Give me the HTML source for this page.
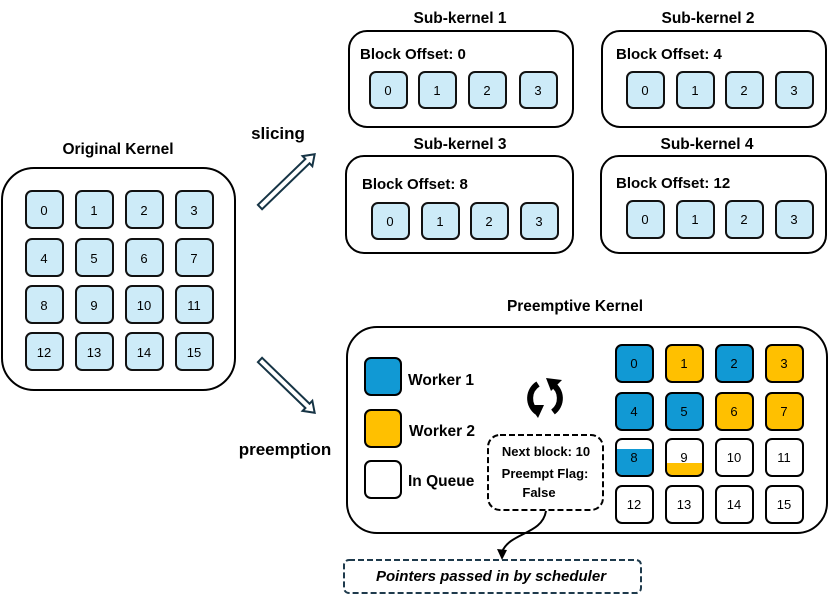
<!DOCTYPE html>
<html><head><meta charset="utf-8"><style>
html,body{margin:0;padding:0;background:#fff}
svg{display:block}
text{font-family:"Liberation Sans",sans-serif}
.t{font-weight:bold;font-size:15.5px;text-anchor:middle}
.n{font-size:13px;text-anchor:middle}
.c{fill:#CDEBF8;stroke:#111;stroke-width:2}
.b{fill:#fff;stroke:#000;stroke-width:2}
.bo{font-weight:bold;font-size:15px}
</style></head><body>
<svg width="830" height="597" viewBox="0 0 830 597" xmlns="http://www.w3.org/2000/svg">
<text class="t" x="118" y="154">Original Kernel</text>
<rect class="b" x="2" y="168" width="233" height="222" rx="32"/>
<g>
<rect class="c" x="26" y="191" width="37" height="37" rx="6"/><text class="n" x="44" y="215">0</text>
<rect class="c" x="76" y="191" width="37" height="37" rx="6"/><text class="n" x="94" y="215">1</text>
<rect class="c" x="126" y="191" width="37" height="37" rx="6"/><text class="n" x="144" y="215">2</text>
<rect class="c" x="176" y="191" width="37" height="37" rx="6"/><text class="n" x="194" y="215">3</text>
<rect class="c" x="26" y="239" width="37" height="37" rx="6"/><text class="n" x="44" y="263">4</text>
<rect class="c" x="76" y="239" width="37" height="37" rx="6"/><text class="n" x="94" y="263">5</text>
<rect class="c" x="126" y="239" width="37" height="37" rx="6"/><text class="n" x="144" y="263">6</text>
<rect class="c" x="176" y="239" width="37" height="37" rx="6"/><text class="n" x="194" y="263">7</text>
<rect class="c" x="26" y="286" width="37" height="37" rx="6"/><text class="n" x="44" y="310">8</text>
<rect class="c" x="76" y="286" width="37" height="37" rx="6"/><text class="n" x="94" y="310">9</text>
<rect class="c" x="126" y="286" width="37" height="37" rx="6"/><text class="n" x="144" y="310">10</text>
<rect class="c" x="176" y="286" width="37" height="37" rx="6"/><text class="n" x="194" y="310">11</text>
<rect class="c" x="26" y="333" width="37" height="37" rx="6"/><text class="n" x="44" y="357">12</text>
<rect class="c" x="76" y="333" width="37" height="37" rx="6"/><text class="n" x="94" y="357">13</text>
<rect class="c" x="126" y="333" width="37" height="37" rx="6"/><text class="n" x="144" y="357">14</text>
<rect class="c" x="176" y="333" width="37" height="37" rx="6"/><text class="n" x="194" y="357">15</text>
</g>
<text class="t" x="278" y="139" style="font-size:17px">slicing</text>
<g transform="translate(260,207) rotate(-44)"><path d="M0,-3 L66,-3 L66,-7 L76,0 L66,7 L66,3 L0,3 Z" fill="#fff" stroke="#163445" stroke-width="2"/></g>
<text class="t" x="285" y="455" style="font-size:17px">preemption</text>
<g transform="translate(260,360) rotate(44)"><path d="M0,-3 L66,-3 L66,-7 L76,0 L66,7 L66,3 L0,3 Z" fill="#fff" stroke="#163445" stroke-width="2"/></g>

<text class="t" x="460" y="23">Sub-kernel 1</text>
<rect class="b" x="349" y="31" width="224" height="96" rx="18"/>
<text x="360" y="59" class="bo">Block Offset: 0</text>
<rect class="c" x="370" y="72" width="37" height="36" rx="6"/><text class="n" x="388" y="95">0</text>
<rect class="c" x="419" y="72" width="37" height="36" rx="6"/><text class="n" x="437" y="95">1</text>
<rect class="c" x="469" y="72" width="37" height="36" rx="6"/><text class="n" x="487" y="95">2</text>
<rect class="c" x="520" y="72" width="37" height="36" rx="6"/><text class="n" x="538" y="95">3</text>

<text class="t" x="708" y="23">Sub-kernel 2</text>
<rect class="b" x="602" y="31" width="224" height="96" rx="18"/>
<text x="616" y="59" class="bo">Block Offset: 4</text>
<rect class="c" x="627" y="72" width="37" height="36" rx="6"/><text class="n" x="645" y="95">0</text>
<rect class="c" x="677" y="72" width="37" height="36" rx="6"/><text class="n" x="695" y="95">1</text>
<rect class="c" x="726" y="72" width="37" height="36" rx="6"/><text class="n" x="744" y="95">2</text>
<rect class="c" x="776" y="72" width="37" height="36" rx="6"/><text class="n" x="794" y="95">3</text>

<text class="t" x="460" y="149">Sub-kernel 3</text>
<rect class="b" x="346" y="156" width="227" height="97" rx="18"/>
<text x="362" y="189" class="bo">Block Offset: 8</text>
<rect class="c" x="372" y="203" width="37" height="36" rx="6"/><text class="n" x="390" y="226">0</text>
<rect class="c" x="422" y="203" width="37" height="36" rx="6"/><text class="n" x="440" y="226">1</text>
<rect class="c" x="471" y="203" width="37" height="36" rx="6"/><text class="n" x="489" y="226">2</text>
<rect class="c" x="521" y="203" width="37" height="36" rx="6"/><text class="n" x="539" y="226">3</text>

<text class="t" x="707" y="149">Sub-kernel 4</text>
<rect class="b" x="601" y="156" width="225" height="97" rx="18"/>
<text x="616" y="188" class="bo">Block Offset: 12</text>
<rect class="c" x="627" y="201" width="37" height="37" rx="6"/><text class="n" x="645" y="224">0</text>
<rect class="c" x="677" y="201" width="37" height="37" rx="6"/><text class="n" x="695" y="224">1</text>
<rect class="c" x="726" y="201" width="37" height="37" rx="6"/><text class="n" x="744" y="224">2</text>
<rect class="c" x="776" y="201" width="37" height="37" rx="6"/><text class="n" x="794" y="224">3</text>

<text class="t" x="575" y="311">Preemptive Kernel</text>
<rect class="b" x="347" y="327" width="480" height="206" rx="30"/>
<rect x="365" y="358" width="36" height="37" rx="6" fill="#1199D4" stroke="#000" stroke-width="2"/>
<rect x="365" y="410" width="36" height="37" rx="6" fill="#FFC000" stroke="#000" stroke-width="2"/>
<rect x="365" y="461" width="36" height="37" rx="6" fill="#fff" stroke="#000" stroke-width="2"/>
<text x="408" y="385" style="font-weight:bold;font-size:15.5px">Worker 1</text>
<text x="409" y="436" style="font-weight:bold;font-size:15.5px">Worker 2</text>
<text x="408" y="486" style="font-weight:bold;font-size:15.5px">In Queue</text>
<g fill="none" stroke="#000" stroke-width="6">
<path d="M538,384 A17,17 0 0 0 537,412"/>
<path d="M552,384 A17,17 0 0 1 553,412"/>
</g>
<path d="M529,405 L544,405 L538,418 Z" fill="#000"/>
<path d="M546,378 L562,380 L551,391 Z" fill="#000"/>
<g>
<rect x="616" y="345" width="37" height="37" rx="6" fill="#1199D4" stroke="#000" stroke-width="2"/><text class="n" x="634" y="368">0</text>
<rect x="666" y="345" width="37" height="37" rx="6" fill="#FFC000" stroke="#000" stroke-width="2"/><text class="n" x="684" y="368">1</text>
<rect x="716" y="345" width="37" height="37" rx="6" fill="#1199D4" stroke="#000" stroke-width="2"/><text class="n" x="734" y="368">2</text>
<rect x="766" y="345" width="37" height="37" rx="6" fill="#FFC000" stroke="#000" stroke-width="2"/><text class="n" x="784" y="368">3</text>
<rect x="616" y="393" width="37" height="37" rx="6" fill="#1199D4" stroke="#000" stroke-width="2"/><text class="n" x="634" y="416">4</text>
<rect x="666" y="393" width="37" height="37" rx="6" fill="#1199D4" stroke="#000" stroke-width="2"/><text class="n" x="684" y="416">5</text>
<rect x="716" y="393" width="37" height="37" rx="6" fill="#FFC000" stroke="#000" stroke-width="2"/><text class="n" x="734" y="416">6</text>
<rect x="766" y="393" width="37" height="37" rx="6" fill="#FFC000" stroke="#000" stroke-width="2"/><text class="n" x="784" y="416">7</text>
<path d="M617,449 H652 V470 A5,5 0 0 1 647,475 H622 A5,5 0 0 1 617,470 Z" fill="#1199D4"/>
<rect x="616" y="439" width="37" height="37" rx="6" fill="none" stroke="#000" stroke-width="2"/><text class="n" x="634" y="462">8</text>
<path d="M667,463 H702 V470 A5,5 0 0 1 697,475 H672 A5,5 0 0 1 667,470 Z" fill="#FFC000"/>
<rect x="666" y="439" width="37" height="37" rx="6" fill="none" stroke="#000" stroke-width="2"/><text class="n" x="684" y="462">9</text>
<rect x="716" y="439" width="37" height="37" rx="6" fill="#fff" stroke="#000" stroke-width="2"/><text class="n" x="734" y="462">10</text>
<rect x="766" y="439" width="37" height="37" rx="6" fill="#fff" stroke="#000" stroke-width="2"/><text class="n" x="784" y="462">11</text>
<rect x="616" y="486" width="37" height="37" rx="6" fill="#fff" stroke="#000" stroke-width="2"/><text class="n" x="634" y="509">12</text>
<rect x="666" y="486" width="37" height="37" rx="6" fill="#fff" stroke="#000" stroke-width="2"/><text class="n" x="684" y="509">13</text>
<rect x="716" y="486" width="37" height="37" rx="6" fill="#fff" stroke="#000" stroke-width="2"/><text class="n" x="734" y="509">14</text>
<rect x="766" y="486" width="37" height="37" rx="6" fill="#fff" stroke="#000" stroke-width="2"/><text class="n" x="784" y="509">15</text>
</g>
<rect x="488" y="435" width="115" height="75" rx="12" fill="#fff" stroke="#000" stroke-width="2" stroke-dasharray="6,3"/>
<text x="546" y="456" style="font-weight:bold;font-size:13px;text-anchor:middle">Next block: 10</text>
<text x="545" y="478" style="font-weight:bold;font-size:13px;text-anchor:middle">Preempt Flag:</text>
<text x="539" y="497" style="font-weight:bold;font-size:13px;text-anchor:middle">False</text>
<path d="M546,511 C542,535 510,532 502,552" fill="none" stroke="#000" stroke-width="2"/>
<path d="M497,549 L502,560 L507,550 Z" fill="#000"/>
<rect x="344" y="560" width="297" height="33" rx="5" fill="#fff" stroke="#1E3A4C" stroke-width="2" stroke-dasharray="6,3"/>
<text x="491" y="581" style="font-weight:bold;font-style:italic;font-size:15px;text-anchor:middle">Pointers passed in by scheduler</text>
</svg>
</body></html>
